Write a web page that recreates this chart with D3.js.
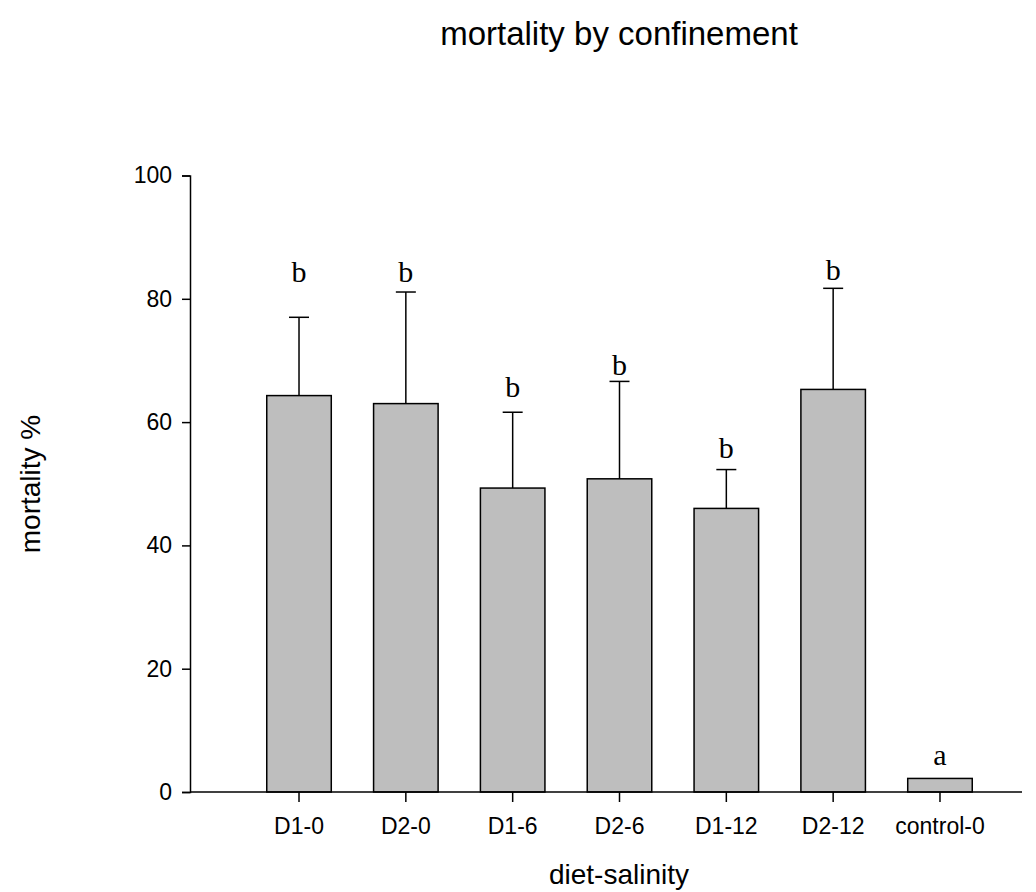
<!DOCTYPE html>
<html>
<head>
<meta charset="utf-8">
<script src="https://cdn.jsdelivr.net/npm/d3@7"></script>
<style>
  body { margin: 0; background: #fff; }
  text { font-family: "Liberation Sans", Arial, sans-serif; fill: #000; }
  .letter { font-family: "Liberation Serif", "Times New Roman", serif; }
</style>
</head>
<body>
<svg id="chart" width="1036" height="892"></svg>
<script>
// data
const categories = ["D1-0", "D2-0", "D1-6", "D2-6", "D1-12", "D2-12", "control-0"];
const means = [64.3, 63.0, 49.3, 50.8, 46.0, 65.3, 2.2];
const errors = [12.7, 18.1, 12.3, 15.8, 6.3, 16.4, 0];
const letters = ["b", "b", "b", "b", "b", "b", "a"];
const letterY = [82.8, 82.8, 64.1, 67.7, 54.1, 83.0, 4.4];
const yTicks = [0, 20, 40, 60, 80, 100];

const svg = d3.select("#chart");

const x = d3.scaleBand()
  .domain(categories)
  .range([245.6, 993.4])
  .paddingInner(0.396)
  .paddingOuter(0.198);

const y = d3.scaleLinear()
  .domain([0, 100])
  .range([792, 175.5]);

const bars = categories.map((c, i) => ({
  cat: c, mean: means[i], err: errors[i], letter: letters[i], ly: letterY[i]
}));

// error bars (upper only)
const eg = svg.append("g").attr("stroke", "#000").attr("stroke-width", 1.5);
bars.filter(d => d.err > 0).forEach(d => {
  const cx = x(d.cat) + x.bandwidth() / 2;
  eg.append("line")
    .attr("x1", cx).attr("x2", cx)
    .attr("y1", y(d.mean)).attr("y2", y(d.mean + d.err));
  eg.append("line")
    .attr("x1", cx - 10).attr("x2", cx + 10)
    .attr("y1", y(d.mean + d.err)).attr("y2", y(d.mean + d.err));
});

// bars
svg.append("g")
  .selectAll("rect")
  .data(bars)
  .enter().append("rect")
  .attr("x", d => x(d.cat))
  .attr("y", d => y(d.mean))
  .attr("width", x.bandwidth())
  .attr("height", d => y(0) - y(d.mean))
  .attr("fill", "#bebebe")
  .attr("stroke", "#000")
  .attr("stroke-width", 1.5);

// significance letters
svg.append("g")
  .selectAll("text")
  .data(bars)
  .enter().append("text")
  .attr("class", "letter")
  .attr("x", d => x(d.cat) + x.bandwidth() / 2)
  .attr("y", d => y(d.ly))
  .attr("text-anchor", "middle")
  .attr("font-size", 30)
  .text(d => d.letter);

// y axis
const yAxis = svg.append("g")
  .attr("transform", "translate(190,0)")
  .call(d3.axisLeft(y).tickValues(yTicks).tickSize(8).tickPadding(10));
yAxis.selectAll("text").attr("font-size", 23).attr("font-family", null);
yAxis.selectAll("path, line").attr("stroke", "#000").attr("stroke-width", 1.5);

// x axis
const xAxis = svg.append("g")
  .attr("transform", `translate(0,${y(0)})`)
  .call(d3.axisBottom(x).tickSize(10).tickSizeOuter(0).tickPadding(16));
xAxis.select(".domain").remove();
xAxis.append("line")
  .attr("x1", 190).attr("x2", 1022)
  .attr("stroke", "#000").attr("stroke-width", 1.5);
xAxis.selectAll("text").attr("font-size", 23).attr("font-family", null);
xAxis.selectAll(".tick line").attr("stroke", "#000").attr("stroke-width", 1.5);

// titles
svg.append("text")
  .attr("x", 619).attr("y", 45)
  .attr("text-anchor", "middle")
  .attr("font-size", 33)
  .text("mortality by confinement");

svg.append("text")
  .attr("x", 619).attr("y", 884)
  .attr("text-anchor", "middle")
  .attr("font-size", 28)
  .text("diet-salinity");

svg.append("text")
  .attr("transform", "translate(40,484) rotate(-90)")
  .attr("text-anchor", "middle")
  .attr("font-size", 28)
  .text("mortality %");
</script>
</body>
</html>
